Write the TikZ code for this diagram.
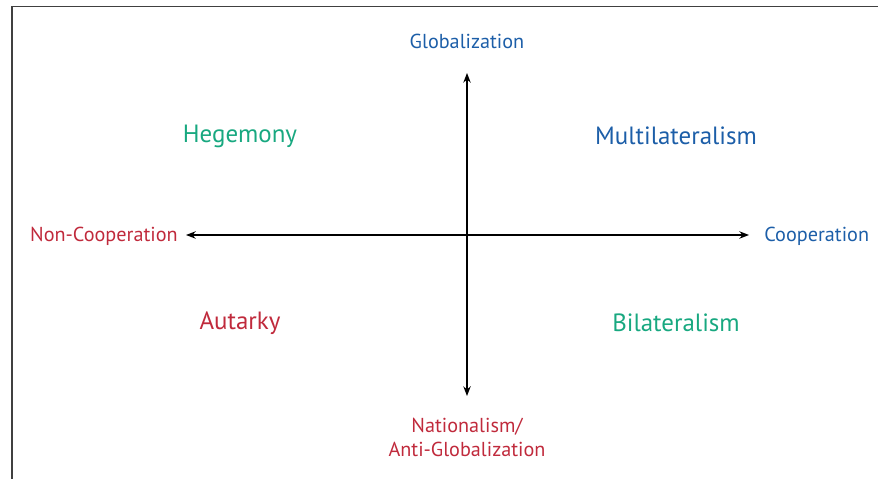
\documentclass[tikz,border=0pt]{standalone}
\usepackage{fontspec}
\setmainfont{PT Sans}
\usetikzlibrary{arrows.meta}
\definecolor{axisblue}{RGB}{28,94,168}
\definecolor{axisred}{RGB}{192,42,60}
\definecolor{axisgreen}{RGB}{24,168,128}
\begin{document}
\begin{tikzpicture}[x = 0.02cm, y = -0.02cm,
        axislabel/.style = {font = \fontsize{11.5}{13.6}\selectfont, align = center, inner sep = 0pt},
        quadlabel/.style = {font = \fontsize{14.2}{16}\selectfont, inner sep = 0pt},
        axisline/.style = {line width = 0.7pt, {Stealth[length = 5.5pt, width = 4.2pt]}-{Stealth[length = 5.5pt, width = 4.2pt]}}]
        \useasboundingbox (0, 0) rectangle (878, 479);
        \draw[line width = 1.1pt, black!75] (12, 479) -- (12, 6.5) -- (878, 6.5);
        % axis ends
        \coordinate (top) at (467, 73);
        \coordinate (bottom) at (467, 396);
        \coordinate (left) at (186, 235);
        \coordinate (right) at (749, 235);
        \draw[axisline] (top) -- (bottom);
        \draw[axisline] (left) -- (right);
        % axis labels
        \node[axislabel, axisblue] (glob) at (467, 41) {Globalization};
        \node[axislabel, axisred] (natl) at (467, 437) {Nationalism/\\Anti-Globalization};
        \node[axislabel, axisred, anchor = east] (noncoop) at (178, 236) {Non-Cooperation};
        \node[axislabel, axisblue, anchor = west] (coop) at (764, 236) {Cooperation};
        % quadrants
        \node[quadlabel, axisgreen] (hegem) at (240, 136) {Hegemony};
        \node[quadlabel, axisblue] (multi) at (676, 136) {Multilateralism};
        \node[quadlabel, axisred] (autark) at (240, 323) {Autarky};
        \node[quadlabel, axisgreen] (bilat) at (676, 323) {Bilateralism};
    \end{tikzpicture}
\end{document}
